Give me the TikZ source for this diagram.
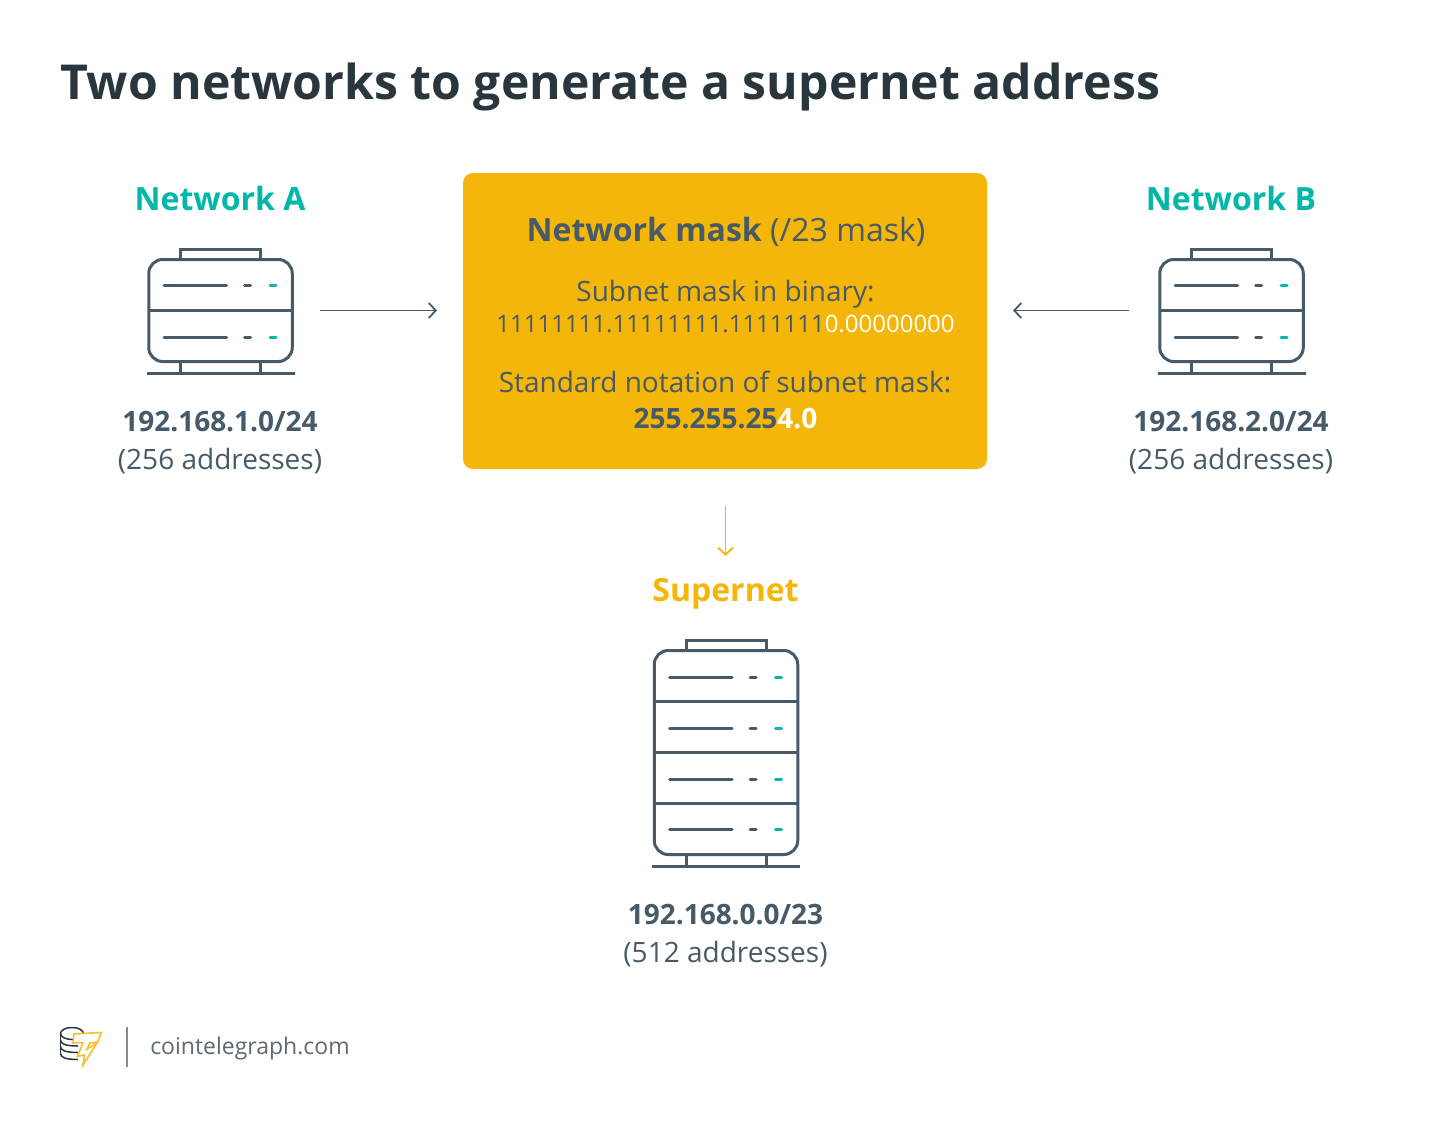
\documentclass[tikz,border=0pt]{standalone}
\usepackage{fontspec}
\setmainfont{Open Sans}
\usetikzlibrary{arrows.meta}
\definecolor{ink}{HTML}{465A68}
\definecolor{titleink}{HTML}{29363D}
\definecolor{teal}{HTML}{00B7A8}
\definecolor{gold}{HTML}{F5B60A}
\definecolor{logogold}{HTML}{F9BE2C}
\definecolor{greyline}{HTML}{858B8F}
\definecolor{greytext}{HTML}{5E6A72}
\newcommand{\fs}[1]{\fontsize{#1}{#1}\selectfont}
\tikzset{
  lbl/.style={anchor=base,inner sep=0pt,outer sep=0pt,text=ink},
  titletext/.style={lbl,anchor=base west,text=titleink,font=\bfseries\fs{48.15}},
  nettitle/.style={lbl,font=\bfseries\fs{32}},
  ipbold/.style={lbl,font=\bfseries\fs{28}},
  ipnote/.style={lbl,font=\fs{28}},
  masktext/.style={lbl,font=\fs{28}},
  binarytext/.style={lbl,font=\fs{24}},
  srvbody/.style={draw=ink,line width=3pt,rounded corners=14pt,inner sep=0pt,outer sep=0pt,minimum width=143.5pt},
  srvline/.style={draw=ink,line width=3pt},
  srvlight/.style={line width=3pt,line cap=round,draw=ink},
  arr/.style={line width=1.8pt,-{Straight Barb[length=7pt,width=15pt,line width=1.8pt]}},
  pics/srvrow/.style={code={
    \draw[srvlight] (-56.5,0) -- (6,0);
    \draw[srvlight] (24,0) -- (30,0);
    \draw[srvlight,draw=teal] (49.5,0) -- (55.5,0);
  }},
  pics/srvends/.style={code={
    % origin = centre of top edge; #1 = body height
    \draw[srvline] (-40,0) |- (40,-10) -- (40,0);
    \draw[srvline] (-40,#1) -- (-40,#1+11.5) (40,#1) -- (40,#1+11.5);
    \draw[srvlight,line cap=butt] (-74,#1+11.5) -- (74,#1+11.5);
  }},
}
\begin{document}
\begin{tikzpicture}[x=1pt,y=-1pt]
\useasboundingbox[fill=white] (0,0) rectangle (1450,1127);

\node[titletext] (title) at (60,99) {Two networks to generate a supernet address};

% central mask box
\node[fill=gold,rounded corners=10pt,inner sep=0pt,outer sep=0pt,minimum width=524pt,minimum height=296pt] (mask) at (725,321) {};
\node[lbl,font=\fs{32}] (masktitle) at (726,241) {\textbf{Network mask} (/23 mask)};
\node[masktext] (binhead) at (725.5,301) {Subnet mask in binary:};
\node[binarytext] (binval) at (725.5,332) {11111111.11111111.1111111\textcolor{white}{0.00000000}};
\node[masktext] (stdhead) at (725,392) {Standard notation of subnet mask:};
\node[lbl,font=\bfseries\fs{28}] (stdval) at (725.5,428.5) {255.255.25\textcolor{white}{4.0}};

% Network A
\node[nettitle,text=teal] (netA) at (220,210) {Network A};
\node[srvbody,minimum height=102pt] (srvA) at (220.5,310.5) {};
\draw[srvline] (srvA.west) -- (srvA.east);
\pic at (srvA.north) {srvends=102};
\pic at (220.5,285.5) {srvrow};
\pic at (220.5,337) {srvrow};
\node[ipbold] (ipA) at (220,431) {192.168.1.0/24};
\node[ipnote] (noteA) at (220,469) {(256 addresses)};

% Network B
\node[nettitle,text=teal] (netB) at (1231,210) {Network B};
\node[srvbody,minimum height=102pt] (srvB) at (1231.5,310.5) {};
\draw[srvline] (srvB.west) -- (srvB.east);
\pic at (srvB.north) {srvends=102};
\pic at (1231.5,285.5) {srvrow};
\pic at (1231.5,337) {srvrow};
\node[ipbold] (ipB) at (1231,431) {192.168.2.0/24};
\node[ipnote] (noteB) at (1231,469) {(256 addresses)};

% Supernet
\node[nettitle,text=gold] (supernet) at (725.5,601) {Supernet};
\node[srvbody,minimum height=204pt] (srvS) at (726,752.5) {};
\draw[srvline] (srvS.west |- 0,701.5) -- (srvS.east |- 0,701.5);
\draw[srvline] (srvS.west) -- (srvS.east);
\draw[srvline] (srvS.west |- 0,803.5) -- (srvS.east |- 0,803.5);
\pic at (srvS.north) {srvends=204};
\pic at (726,677) {srvrow};
\pic at (726,728) {srvrow};
\pic at (726,779) {srvrow};
\pic at (726,829.5) {srvrow};
\node[ipbold] (ipS) at (725.5,924) {192.168.0.0/23};
\node[ipnote] (noteS) at (725.5,962) {(512 addresses)};

% connectors
\draw[arr,draw=ink,shorten <=27.8pt,shorten >=26pt] (srvA.east) -- (srvA.east -| mask.west);
\draw[arr,draw=ink,shorten <=30.8pt,shorten >=26pt] (srvB.west) -- (srvB.west -| mask.east);
\draw[arr,draw=gold,shorten <=37pt,shorten >=22pt] (mask.south -| supernet) -- (supernet.north);

% logo
\begin{scope}[draw=titleink,line width=1.5pt]
  \draw (72,1033.5) ellipse[x radius=11.5,y radius=6];
  \draw (60.5,1033.5) -- (60.5,1053.5);
  \draw (60.5,1040) .. controls (60.5,1044) and (66,1046) .. (78,1046);
  \draw (60.5,1046.5) .. controls (60.5,1050.5) and (66,1052.5) .. (78,1052.5);
  \draw (60.5,1053.5) .. controls (60.5,1057.5) and (66,1059.5) .. (78,1059.5);
\end{scope}
\draw[logogold,line width=1.6pt,line join=miter,fill=white]
  (74,1034) -- (101.5,1032.5) -- (97.5,1042) -- (90,1043) -- (87,1049) -- (97,1043) -- (83,1065) -- (84.5,1055) -- (77.5,1056.5) -- (83,1042.5) -- (73,1043) -- cycle;
\draw[greyline,line width=2pt] (127,1027) -- (127,1067);
\node[lbl,text=greytext,font=\fs{23}] (brand) at (250,1054) {cointelegraph.com};
\end{tikzpicture}
\end{document}
